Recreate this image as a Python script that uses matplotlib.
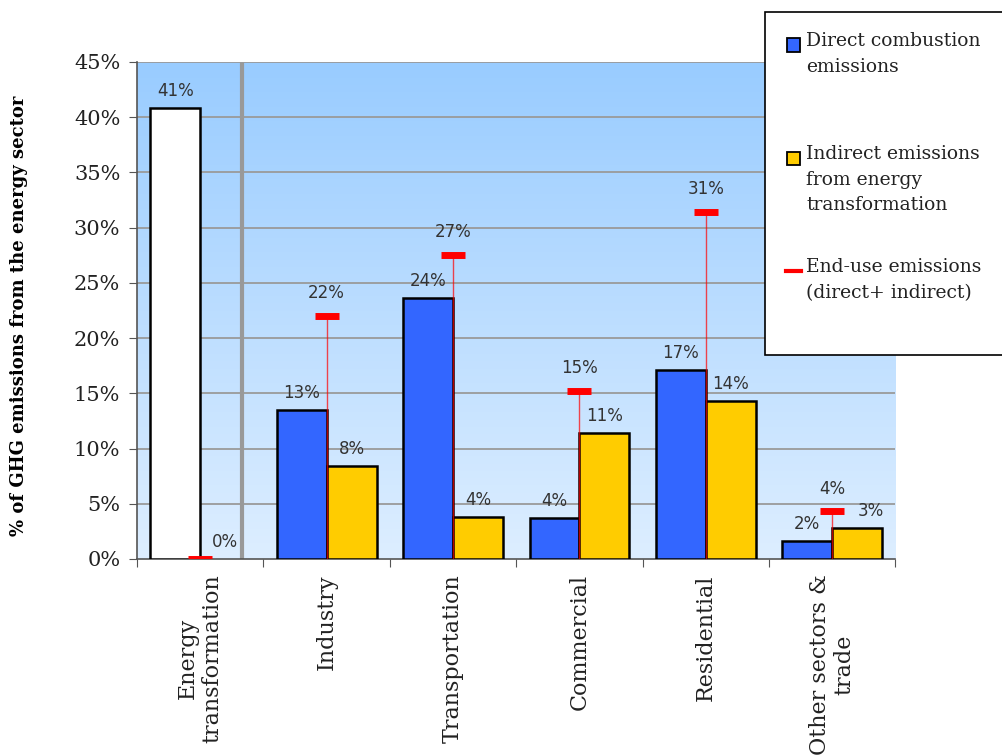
import numpy as np
import matplotlib.pyplot as plt
from matplotlib.patches import Rectangle
from matplotlib.colors import LinearSegmentedColormap

categories = ["Energy\ntransformation", "Industry", "Transportation",
              "Commercial", "Residential", "Other sectors &\ntrade"]
direct = [40.8, 13.5, 23.6, 3.7, 17.1, 1.6]
indirect = [0.0, 8.4, 3.8, 11.4, 14.3, 2.8]
end_use = [0.0, 22.0, 27.5, 15.2, 31.4, 4.3]
direct_labels = ["41%", "13%", "24%", "4%", "17%", "2%"]
indirect_labels = ["0%", "8%", "4%", "11%", "14%", "3%"]
end_use_labels = ["", "22%", "27%", "15%", "31%", "4%"]
yticks = [0, 5, 10, 15, 20, 25, 30, 35, 40, 45]

BLUE = "#3366FF"
YELLOW = "#FFCC00"
RED = "#FF0000"
SERIF = "DejaVu Serif"

fig = plt.figure(figsize=(10.02, 7.56), dpi=100)
ax = fig.add_axes([0.1367, 0.2606, 0.757, 0.6574])

n = len(categories)
x = np.arange(n)
w = 0.395

# gradient background
grad = LinearSegmentedColormap.from_list("bg", ["#DDEEFF", "#99CCFF"])
ax.imshow(np.linspace(0, 1, 256).reshape(-1, 1), cmap=grad, aspect="auto",
          extent=[-0.5, n - 0.5, 0, 45], origin="lower", zorder=0)

for y in yticks[1:]:
    ax.axhline(y, color="#9a9a9a", lw=1.3, zorder=1)

# separator between energy sector and end-use sectors
ax.axvline(0.33, color="#999999", lw=3, zorder=1)

# first category: energy transformation drawn white
colors = ["white"] + [BLUE] * (n - 1)
ax.bar(x - w / 2, direct, w, color=colors, edgecolor="black", lw=1.8, zorder=3)
ax.bar(x[1:] + w / 2, indirect[1:], w, color=YELLOW, edgecolor="black", lw=1.8, zorder=3)

ax.vlines(x, 0, end_use, color=RED, lw=1, alpha=0.7, zorder=4)
ax.hlines(end_use, x - 0.095, x + 0.095, color=RED, lw=5, zorder=5)

lab_kw = dict(ha="center", va="bottom", fontsize=12, color="#333333",
              textcoords="offset points", family="DejaVu Sans")
for i in range(n):
    # small labels next to the end-use marker get nudged right
    dx = 10 if end_use[i] - indirect[i] < 3 and i > 0 else 0
    ax.annotate(direct_labels[i], (x[i] - w / 2, direct[i]), xytext=(0, 6), **lab_kw)
    ax.annotate(indirect_labels[i], (x[i] + w / 2, indirect[i]), xytext=(dx, 6), **lab_kw)
    if end_use_labels[i]:
        ax.annotate(end_use_labels[i], (x[i], end_use[i]), xytext=(0, 10), **lab_kw)

ax.set_xlim(-0.5, n - 0.5)
ax.set_ylim(0, 45)
ax.set_yticks(yticks)
ax.set_yticklabels([f"{v}%" for v in yticks], family=SERIF, fontsize=15, color="#222222")
ax.set_xticks(np.arange(n + 1) - 0.5)
ax.set_xticklabels([])
ax.set_xticks(x, minor=True)
ax.set_xticklabels(categories, minor=True, rotation=90, family=SERIF,
                   fontsize=16, va="top", ha="center", color="#222222",
                   linespacing=1.15)
ax.tick_params(axis="x", which="minor", length=0, pad=11)
ax.tick_params(axis="x", which="major", length=6, color="#555555")
ax.tick_params(axis="y", length=6, color="#555555", pad=6)
for s in ["top", "right"]:
    ax.spines[s].set_visible(False)
for s in ["left", "bottom"]:
    ax.spines[s].set_color("#555555")
    ax.spines[s].set_linewidth(1.2)

fig.text(0.019, 0.582, "% of GHG emissions from the energy sector", rotation=90,
         ha="center", va="center", family=SERIF, fontweight="bold", fontsize=13)

# legend box
fw, fh = 1002, 756
def fx(px):
    return px / fw
def fy(py):
    return 1 - py / fh

fig.patches.append(Rectangle((fx(765), fy(355)), fx(260), (355 - 12) / fh,
                             transform=fig.transFigure, facecolor="white",
                             edgecolor="black", lw=1.2, zorder=10))
entries = [(BLUE, "Direct combustion\nemissions", 45),
           (YELLOW, "Indirect emissions\nfrom energy\ntransformation", 158),
           (None, "End-use emissions\n(direct+ indirect)", 271)]
for col, txt, py in entries:
    if col is None:
        fig.lines.append(plt.Line2D([fx(786), fx(801)], [fy(py), fy(py)],
                                    transform=fig.transFigure, color=RED, lw=3, zorder=11))
    else:
        fig.patches.append(Rectangle((fx(787), fy(py + 6.5)), 13 / fw, 13 / fh,
                                     transform=fig.transFigure, facecolor=col,
                                     edgecolor="black", lw=1.3, zorder=11))
    fig.text(fx(806), fy(py - 13), txt, ha="left", va="top", family=SERIF,
             fontsize=13.5, linespacing=1.55, color="#222222", zorder=12)

fig.savefig("out.png", dpi=100)
